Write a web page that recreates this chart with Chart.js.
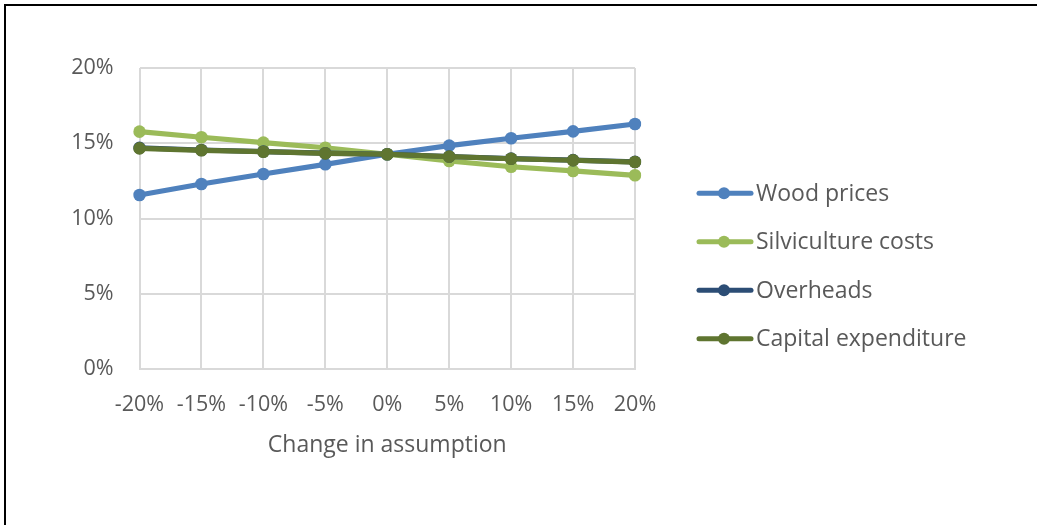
<!DOCTYPE html>
<html>
<head>
<meta charset="utf-8">
<script src="https://cdn.jsdelivr.net/npm/chart.js@4"></script>
<style>
  html, body { margin: 0; padding: 0; background: #fff; overflow: hidden; }
  #wrap { position: relative; width: 1037px; height: 525px; }
  #frame { position: absolute; left: 4px; top: 4px; width: 1100px; height: 600px;
           border-top: 2.5px solid #000; border-left: 2.5px solid #000; pointer-events: none; }
  canvas { position: absolute; left: 0; top: 0; }
</style>
</head>
<body>
<div id="wrap">
  <canvas id="c" width="1037" height="525"></canvas>
  <div id="frame"></div>
</div>
<script>
// Sensitivity of the return (IRR) to a change in each assumption
const categories = ['-20%', '-15%', '-10%', '-5%', '0%', '5%', '10%', '15%', '20%'];
const woodPrices   = [11.56, 12.29, 12.96, 13.60, 14.27, 14.84, 15.33, 15.79, 16.28];
const silviculture = [15.77, 15.40, 15.04, 14.70, 14.27, 13.82, 13.44, 13.16, 12.87];
const overheads    = [14.69, 14.55, 14.45, 14.34, 14.27, 14.12, 13.98, 13.88, 13.76];
const capex        = [14.66, 14.53, 14.44, 14.33, 14.27, 14.11, 13.97, 13.87, 13.75];
const yTicks = [0, 5, 10, 15, 20];

const seriesNames  = ['Wood prices', 'Silviculture costs', 'Overheads', 'Capital expenditure'];
const seriesColors = ['#4f81bd', '#9bbb59', '#2c4d75', '#5f7530'];
const seriesValues = [woodPrices, silviculture, overheads, capex];

const FONT = '"Open Sans"';
const TICK_SIZE = 21.5;
const LABEL_SIZE = 23;
const TEXT = '#595959';
const GRID = '#d9d9d9';

const PLOT = { left: 139.5, right: 635, top: 68, bottom: 369 };

// Legend: line segment with a centred marker, then the series name
const lineLegend = {
  id: 'lineLegend',
  afterDraw(chart) {
    const ctx = chart.ctx;
    const n = chart.data.datasets.length;
    const gap = 48.5;
    const cy = 266 - gap * (n - 1) / 2;
    ctx.save();
    ctx.font = LABEL_SIZE + 'px ' + FONT;
    ctx.textBaseline = 'middle';
    ctx.textAlign = 'left';
    chart.data.datasets.forEach((ds, i) => {
      const y = cy + i * gap;
      ctx.strokeStyle = ds.borderColor;
      ctx.lineWidth = 5;
      ctx.lineCap = 'round';
      ctx.beginPath();
      ctx.moveTo(699, y);
      ctx.lineTo(751, y);
      ctx.stroke();
      ctx.fillStyle = ds.borderColor;
      ctx.beginPath();
      ctx.arc(724, y, 6, 0, Math.PI * 2);
      ctx.fill();
      ctx.fillStyle = TEXT;
      ctx.fillText(ds.label, 756, y + 1);
    });
    ctx.restore();
  }
};

const datasets = seriesNames.map((name, i) => ({
  label: name,
  data: seriesValues[i],
  borderColor: seriesColors[i],
  backgroundColor: seriesColors[i],
  borderWidth: 5.2,
  borderCapStyle: 'round',
  borderJoinStyle: 'round',
  pointRadius: 6.3,
  pointHoverRadius: 6.3,
  pointBorderWidth: 0,
  pointBackgroundColor: seriesColors[i],
  tension: 0,
  order: seriesNames.length - i
}));

new Chart(document.getElementById('c'), {
  type: 'line',
  data: { labels: categories, datasets },
  options: {
    responsive: false,
    animation: false,
    devicePixelRatio: 1,
    layout: { padding: { top: PLOT.top, left: 0, right: 1037 - PLOT.right, bottom: 0 } },
    plugins: { legend: { display: false }, tooltip: { enabled: false } },
    scales: {
      x: {
        type: 'category',
        offset: false,
        grid: { color: GRID, lineWidth: 2, drawTicks: false },
        border: { color: GRID, width: 2 },
        ticks: { color: TEXT, font: { family: FONT, size: TICK_SIZE }, padding: 23, maxRotation: 0, autoSkip: false },
        title: { display: true, text: 'Change in assumption', color: TEXT,
                 font: { family: FONT, size: LABEL_SIZE }, padding: { top: 0, bottom: 66 } },
        afterFit(scale) { scale.height = 525 - PLOT.bottom; }
      },
      y: {
        min: 0, max: 20,
        afterBuildTicks(scale) { scale.ticks = yTicks.map(v => ({ value: v })); },
        grid: { color: GRID, lineWidth: 2, drawTicks: false },
        border: { display: false },
        ticks: { color: TEXT, font: { family: FONT, size: TICK_SIZE }, padding: 26,
                 callback: v => v + '%' },
        afterFit(scale) { scale.width = PLOT.left; }
      }
    }
  },
  plugins: [lineLegend]
});
</script>
</body>
</html>
